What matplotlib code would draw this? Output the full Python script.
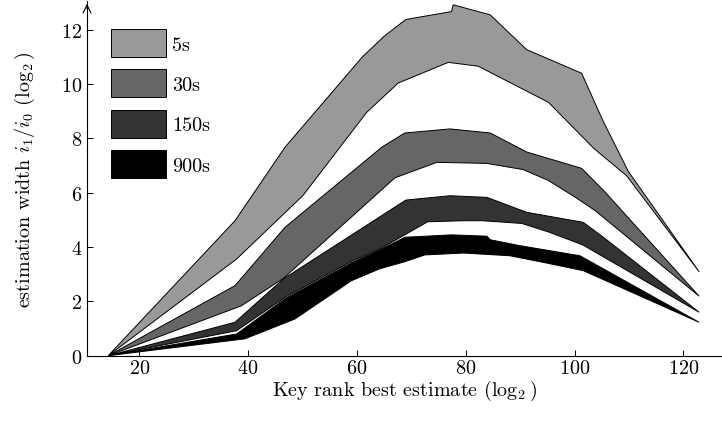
import matplotlib
matplotlib.use('Agg')
import matplotlib.pyplot as plt
from matplotlib.patches import Patch

plt.rcParams['font.family'] = 'serif'
plt.rcParams['font.serif'] = ['cmr10']
plt.rcParams['mathtext.fontset'] = 'cm'
plt.rcParams['axes.formatter.use_mathtext'] = True
plt.rcParams['font.size'] = 14.5

labels = ['5s', '30s', '150s', '900s']
colors = ['#999999', '#666666', '#333333', '#000000']

# upper / lower edge of each band (x, y)
up_5_x = [14.3, 37.6, 46.8, 61.0, 65.0, 69.0, 77.4, 77.7, 84.5, 91.2, 101.3, 105.2, 109.9, 122.9]
up_5_y = [0, 4.97, 7.68, 11.0, 11.76, 12.38, 12.67, 12.92, 12.55, 11.27, 10.4, 8.66, 6.78, 3.09]
lo_5_x = [14.3, 37.9, 50.1, 61.8, 67.6, 76.8, 82.3, 95.2, 103.5, 109.6, 122.9]
lo_5_y = [0, 3.56, 5.9, 8.96, 10.04, 10.8, 10.66, 9.33, 7.64, 6.62, 3.09]

up_30_x = [14.3, 37.6, 46.8, 64.6, 68.8, 77.1, 84.5, 91.2, 101.3, 105.5, 122.9]
up_30_y = [0, 2.58, 4.73, 7.68, 8.2, 8.35, 8.2, 7.5, 6.9, 6.05, 2.19]
lo_30_x = [14.3, 38.8, 46.5, 67.0, 74.7, 83.9, 90.6, 95.2, 100.4, 103.8, 122.9]
lo_30_y = [0, 1.84, 2.85, 6.55, 7.12, 7.08, 6.85, 6.45, 5.8, 5.34, 2.19]

up_150_x = [14.3, 37.6, 46.5, 69.0, 77.1, 83.9, 91.2, 101.6, 105.3, 122.9]
up_150_y = [0, 1.23, 2.83, 5.73, 5.89, 5.83, 5.28, 4.91, 4.36, 1.6]
lo_150_x = [14.3, 37.9, 46.8, 59.3, 64.0, 68.8, 73.0, 79.6, 83.0, 90.3, 95.3, 101.5, 122.9]
lo_150_y = [0, 0.92, 2.15, 3.5, 3.9, 4.45, 4.93, 4.97, 4.97, 4.87, 4.55, 4.08, 1.6]

up_900_x = [14.3, 37.9, 46.8, 59.3, 64.0, 68.8, 77.4, 83.9, 84.5, 90.0, 101.0, 122.9]
up_900_y = [0, 0.8, 2.1, 3.45, 3.87, 4.36, 4.45, 4.4, 4.27, 4.05, 3.68, 1.23]
lo_900_x = [14.3, 39.4, 48.6, 59.0, 64.2, 68.8, 72.5, 79.6, 88.1, 94.9, 101.6, 122.9]
lo_900_y = [0, 0.62, 1.35, 2.76, 3.2, 3.46, 3.71, 3.78, 3.68, 3.41, 3.13, 1.23]

bands = [(up_5_x, up_5_y, lo_5_x, lo_5_y),
         (up_30_x, up_30_y, lo_30_x, lo_30_y),
         (up_150_x, up_150_y, lo_150_x, lo_150_y),
         (up_900_x, up_900_y, lo_900_x, lo_900_y)]

fig = plt.figure(figsize=(7.22, 4.27), dpi=100)
ax = fig.add_axes([87/722, 70.3/427, 635/722, 354.7/427])

for (ux, uy, lx, ly), c in zip(bands, colors):
    px = list(ux) + list(lx[::-1])
    py = list(uy) + list(ly[::-1])
    ax.fill(px, py, facecolor=c, edgecolor='black', linewidth=0.7)

ax.set_xlim(10.4, 127.1)
ax.set_ylim(0, 13.06)
ax.set_xticks([20, 40, 60, 80, 100, 120])
ax.set_yticks([0, 2, 4, 6, 8, 10, 12])
ax.tick_params(direction='in', length=4, width=0.7, top=False, right=False)
ax.tick_params(axis='x', pad=2.5)
ax.spines['top'].set_visible(False)
ax.spines['right'].set_visible(False)
ax.spines['left'].set_linewidth(0.8)
ax.spines['bottom'].set_linewidth(0.8)
ax.annotate('', xy=(0, 1.0), xytext=(0, 0.97), xycoords='axes fraction',
            arrowprops=dict(arrowstyle='->', lw=0.8, color='black'))

ax.set_xlabel(r'Key rank best estimate ($\log_2$)', labelpad=0.5)
ax.set_ylabel(r'estimation width $i_1/i_0$ ($\log_2$)', labelpad=17)

handles = [Patch(facecolor=c, edgecolor='black', linewidth=0.7) for c in colors]
ax.legend(handles, labels, loc='upper left', bbox_to_anchor=(111/722, 1 - 30/427),
          bbox_transform=fig.transFigure, frameon=False, borderpad=0, borderaxespad=0,
          handlelength=2.73, handleheight=1.76, labelspacing=0.62, handletextpad=0.3)

plt.savefig('out.png', dpi=100)
